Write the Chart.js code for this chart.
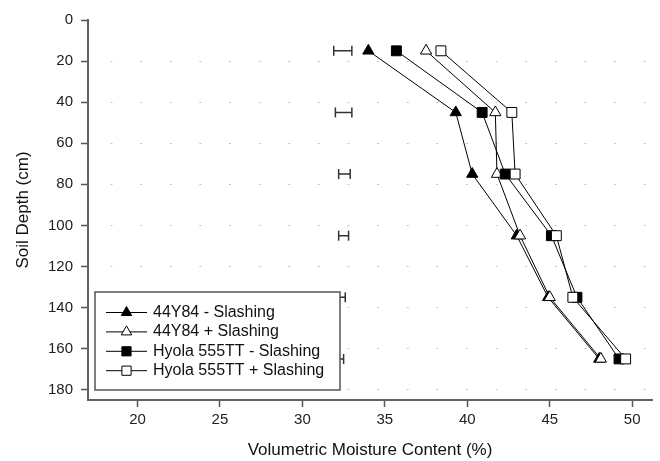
<!DOCTYPE html>
<html>
<head>
<meta charset="utf-8">
<script src="https://cdn.jsdelivr.net/npm/chart.js@4"></script>
<style>
  html, body { margin: 0; padding: 0; background: #fff; }
  #wrap { width: 660px; height: 461px; }
</style>
</head>
<body>
<div id="wrap"><canvas id="grafico" width="660" height="461"></canvas></div>
<script>
  // Profundidades do solo (cm) e umidade volumetrica (%)
  const depths = [15, 45, 75, 105, 135, 165];
  const seriesNames = [
    "44Y84 - Slashing",
    "44Y84 + Slashing",
    "Hyola 555TT - Slashing",
    "Hyola 555TT + Slashing",
  ];
  const y84Minus = [34.0, 39.3, 40.3, 43.0, 44.9, 48.0];
  const y84Plus = [37.5, 41.7, 41.8, 43.2, 45.0, 48.1];
  const hyolaMinus = [35.7, 40.9, 42.3, 45.1, 46.65, 49.2];
  const hyolaPlus = [38.4, 42.7, 42.9, 45.4, 46.4, 49.6];

  // Barras de erro (LSD) em cada profundidade
  const lsdLow = [31.9, 32.0, 32.2, 32.2, 32.2, 32.2];
  const lsdHigh = [33.0, 33.0, 32.9, 32.8, 32.6, 32.5];

  const xTicks = [20, 25, 30, 35, 40, 45, 50];
  const yTicks = [0, 20, 40, 60, 80, 100, 120, 140, 160, 180];

  Chart.defaults.font.family = "'Liberation Sans', Arial, sans-serif";
  Chart.defaults.color = "#222";

  function pontos(valores) {
    return valores.map((v, i) => ({ x: v, y: depths[i] }));
  }

  const barraErro = [];
  depths.forEach((d, i) => {
    barraErro.push({ x: lsdLow[i], y: d }, { x: lsdHigh[i], y: d }, { x: null, y: null });
  });

  const estilos = [
    { pointStyle: "triangle", fill: "#000", radius: 6.5 },
    { pointStyle: "triangle", fill: "#fff", radius: 6.5 },
    { pointStyle: "rect", fill: "#000", radius: 7 },
    { pointStyle: "rect", fill: "#fff", radius: 7 },
  ];
  const valores = [y84Minus, y84Plus, hyolaMinus, hyolaPlus];

  const datasets = valores.map((v, i) => ({
    label: seriesNames[i],
    data: pontos(v),
    showLine: true,
    borderColor: "#000",
    borderWidth: 1,
    pointStyle: estilos[i].pointStyle,
    pointRadius: estilos[i].radius,
    pointBackgroundColor: estilos[i].fill,
    pointBorderColor: "#000",
    pointBorderWidth: 1,
    order: 3 - i,
  }));

  datasets.push({
    label: "LSD",
    data: barraErro,
    showLine: true,
    spanGaps: false,
    borderColor: "#333",
    borderWidth: 1.5,
    pointStyle: "line",
    rotation: 90,
    pointRadius: 5,
    pointBorderColor: "#333",
    pointBorderWidth: 1.5,
    order: 10,
  });

  // Legenda desenhada dentro da area do grafico (canto inferior esquerdo)
  const legendaPlugin = {
    id: "legenda",
    afterDatasetsDraw(chart) {
      const ctx = chart.ctx;
      ctx.save();
      ctx.fillStyle = "#fff";
      ctx.fillRect(95, 292, 245, 98);
      ctx.strokeStyle = "#555";
      ctx.lineWidth = 1.5;
      ctx.strokeRect(95, 292, 245, 98);
      ctx.font = "16px 'Liberation Sans', Arial, sans-serif";
      ctx.textBaseline = "middle";
      seriesNames.forEach((nome, i) => {
        const y = 312.5 + i * 19.4;
        ctx.strokeStyle = "#000";
        ctx.lineWidth = 1;
        ctx.beginPath();
        ctx.moveTo(106, y);
        ctx.lineTo(147, y);
        ctx.stroke();
        ctx.fillStyle = estilos[i].fill;
        Chart.helpers.drawPoint(ctx, {
          pointStyle: estilos[i].pointStyle,
          radius: estilos[i].radius - 0.5,
          rotation: 0,
          borderWidth: 1,
        }, 126.5, y);
        ctx.fillStyle = "#111";
        ctx.fillText(nome, 153, y);
      });
      ctx.restore();
    },
  };

  new Chart(document.getElementById("grafico"), {
    type: "scatter",
    data: { datasets: datasets },
    options: {
      responsive: false,
      animation: false,
      layout: { padding: { top: 20, right: 3, left: 0, bottom: 0 } },
      plugins: { legend: { display: false }, tooltip: { enabled: false } },
      scales: {
        x: {
          type: "linear",
          min: 17,
          max: 51.2,
          afterFit: (scale) => { scale.height = 61; },
          afterBuildTicks: (scale) => { scale.ticks = xTicks.map((v) => ({ value: v })); },
          ticks: { font: { size: 15 }, padding: 4, color: "#222" },
          grid: { drawOnChartArea: false, tickLength: 7, tickColor: "#555", tickWidth: 1.5 },
          border: { display: true, color: "#606060", width: 2 },
          title: {
            display: true,
            text: "Volumetric Moisture Content (%)",
            font: { size: 17 },
            color: "#111",
            padding: { top: 0, bottom: 0 },
          },
        },
        y: {
          type: "linear",
          reverse: true,
          min: 0,
          max: 185,
          afterFit: (scale) => { scale.width = 88; },
          afterBuildTicks: (scale) => { scale.ticks = yTicks.map((v) => ({ value: v })); },
          ticks: { font: { size: 15 }, padding: 8, color: "#222" },
          grid: {
            color: (c) => (c.tick && c.tick.value === 0 ? "rgba(0,0,0,0)" : "#c4c4c4"),
            lineWidth: 1,
            tickLength: 7,
            tickColor: "#555",
            tickWidth: 1.5,
          },
          border: { display: true, color: "#606060", width: 2, dash: [2, 27.62], dashOffset: 8.1 },
          title: {
            display: true,
            text: "Soil Depth (cm)",
            font: { size: 17 },
            color: "#111",
            padding: { top: 13, bottom: 0 },
          },
        },
      },
    },
    plugins: [legendaPlugin],
  });
</script>
</body>
</html>
